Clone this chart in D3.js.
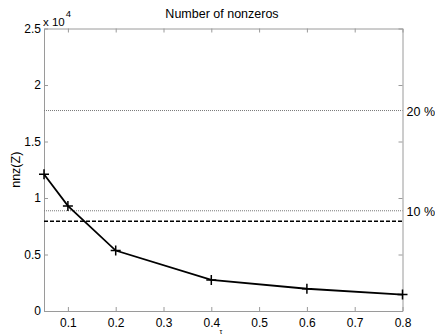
<!DOCTYPE html>
<html>
<head>
<meta charset="utf-8">
<script src="https://cdn.jsdelivr.net/npm/d3@7"></script>
<style>
body{margin:0;background:#fff;}
svg text{font-family:"Liberation Sans",Arial,sans-serif;fill:#000;}
</style>
</head>
<body>
<svg id="board" width="435" height="335"></svg>
<script>
tau = [0.05, 0.1, 0.2, 0.4, 0.6, 0.8];
nnz = [12100, 9300, 5350, 2750, 1970, 1450];
x_ticks = [0.1, 0.2, 0.3, 0.4, 0.5, 0.6, 0.7, 0.8];
y_ticks = [0, 5000, 10000, 15000, 20000, 25000];
pct_levels = [8870, 17740];
pct_labels = ['10 %', '20 %'];
dashed_level = [7940];

board = d3.select('#board');
m = {left: 44, right: 402.5, top: 28.5, bottom: 311};

x = d3.scaleLinear().domain([0.05, 0.8]).range([m.left, m.right]);
y = d3.scaleLinear().domain([0, 25000]).range([m.bottom, m.top]);

function style_axis(g){
    g.selectAll('.domain').attr('stroke', '#9a9a9a');
    g.selectAll('.tick line').attr('stroke', '#9a9a9a');
    g.selectAll('text').style('font-size', '12px').attr('fill', '#000');
}

// box with inward ticks on all sides
board.append('g').attr('transform', `translate(0,${m.bottom})`)
    .call(d3.axisBottom(x).tickValues(x_ticks).tickSizeInner(-4).tickSizeOuter(0).tickPadding(7)
        .tickFormat(d3.format('.1f')))
    .call(style_axis);
board.append('g').attr('transform', `translate(0,${m.top})`)
    .call(d3.axisTop(x).tickValues(x_ticks).tickSizeInner(-4).tickSizeOuter(0).tickFormat(''))
    .call(style_axis);
board.append('g').attr('transform', `translate(${m.left},0)`)
    .call(d3.axisLeft(y).tickValues(y_ticks).tickSizeInner(-4).tickSizeOuter(0).tickPadding(3)
        .tickFormat(d => d / 1e4))
    .call(style_axis);
board.append('g').attr('transform', `translate(${m.right},0)`)
    .call(d3.axisRight(y).tickValues(y_ticks).tickSizeInner(-4).tickSizeOuter(0).tickFormat(''))
    .call(style_axis);

// percentage reference lines
pct_levels.forEach(function(v, i){
    board.append('line')
        .attr('x1', m.left).attr('x2', m.right)
        .attr('y1', y(v)).attr('y2', y(v))
        .attr('stroke', '#777').attr('stroke-width', 1)
        .attr('stroke-dasharray', '1,1');
    board.append('text')
        .attr('x', m.right + 4).attr('y', y(v) + 5)
        .style('font-size', '12.5px').text(pct_labels[i]);
});

dashed_level.forEach(function(v){
    board.append('line')
        .attr('x1', m.left).attr('x2', m.right)
        .attr('y1', y(v)).attr('y2', y(v))
        .attr('stroke', '#000').attr('stroke-width', 1.5)
        .attr('stroke-dasharray', '4,2');
});

// data line
pts = tau.map((t, i) => [x(t), y(nnz[i])]);
board.append('path')
    .attr('d', d3.line()(pts))
    .attr('fill', 'none').attr('stroke', '#000').attr('stroke-width', 1.8);

pts.forEach(function(p){
    board.append('path')
        .attr('d', `M${p[0]-5},${p[1]}H${p[0]+5}M${p[0]},${p[1]-5}V${p[1]+5}`)
        .attr('stroke', '#000').attr('stroke-width', 1.5);
});

// texts
board.append('text').attr('x', 222).attr('y', 18)
    .attr('text-anchor', 'middle').style('font-size', '12.5px').text('Number of nonzeros');
board.append('text').attr('x', 221).attr('y', 334)
    .attr('text-anchor', 'middle').style('font-size', '7px').text('τ');
board.append('text')
    .attr('transform', `translate(20,${(m.top + m.bottom) / 2}) rotate(-90)`)
    .attr('text-anchor', 'middle').style('font-size', '12.5px').text('nnz(Z)');
exp = board.append('text').attr('x', 43).attr('y', 26).style('font-size', '11.5px');
exp.append('tspan').text('x 10');
exp.append('tspan').attr('dy', -9).attr('dx', 1).style('font-size', '9.5px').text('4');
</script>
</body>
</html>
